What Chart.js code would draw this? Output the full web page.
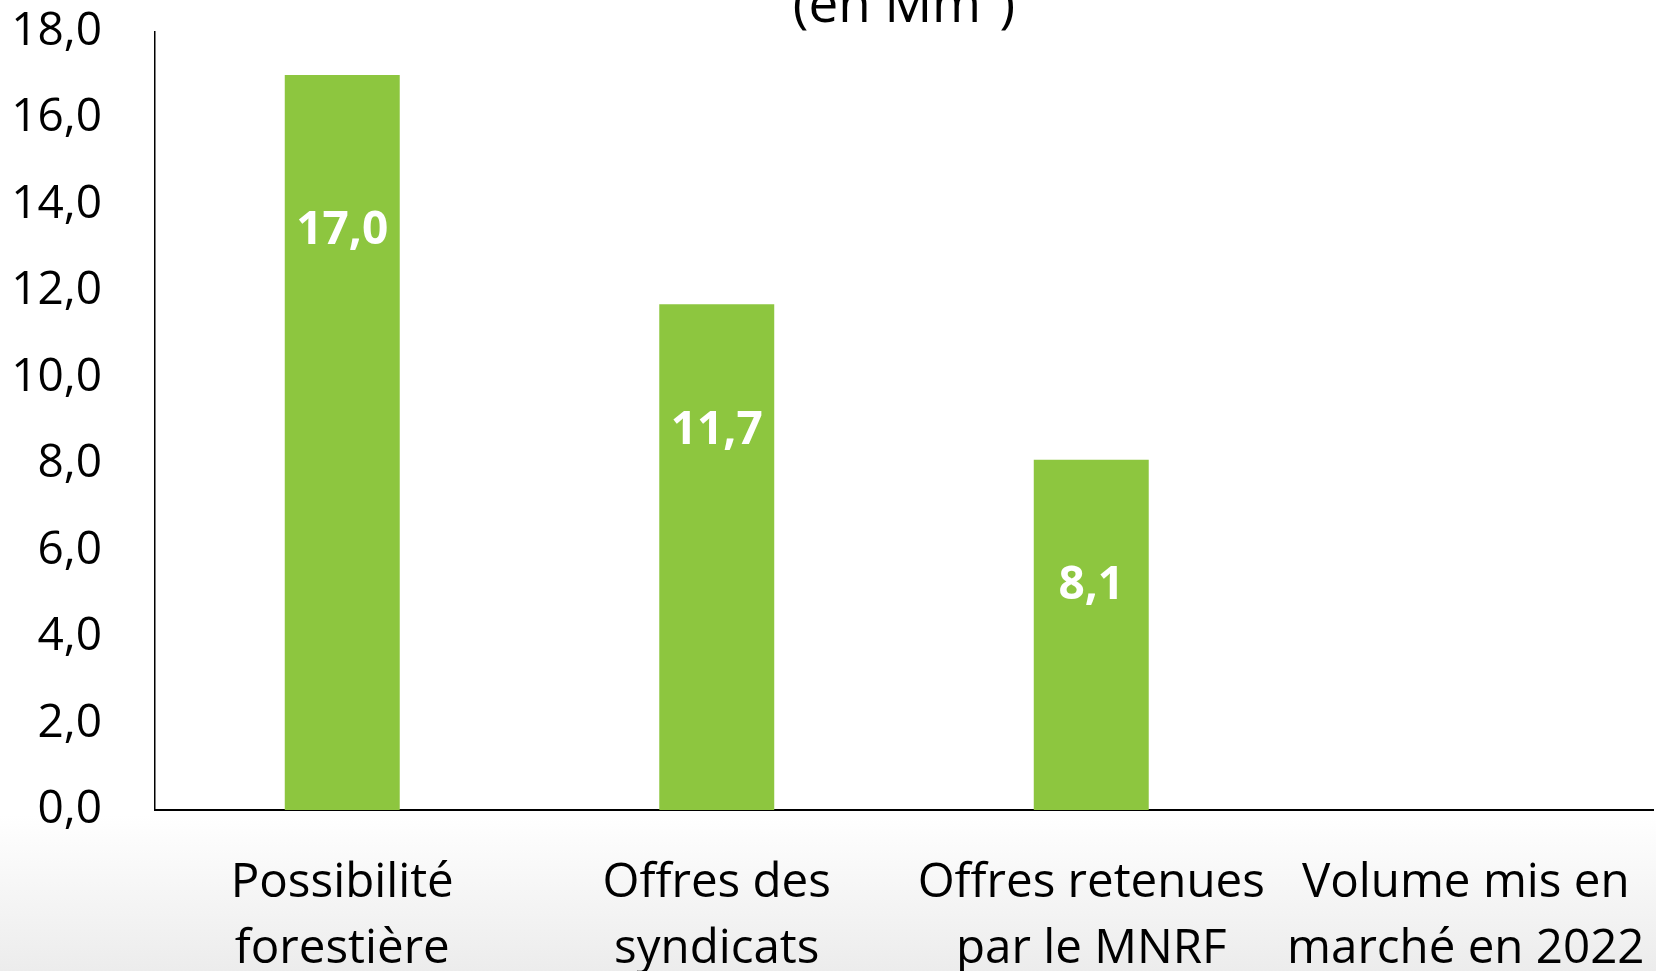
<!DOCTYPE html>
<html lang="fr">
<head>
    <meta charset="UTF-8">
    <title>Volumes (en Mm³)</title>
    <script src="https://cdn.jsdelivr.net/npm/chart.js"></script>
    <style>
        html, body {
            margin: 0;
            padding: 0;
            width: 1656px;
            height: 971px;
            overflow: hidden;
            background: linear-gradient(to bottom, #ffffff 0px, #ffffff 815px, #ececec 971px);
        }

        #chart-container {
            position: absolute;
            left: 0;
            top: -19px;
            width: 1656px;
            height: 1001px;
        }
    </style>
</head>
<body>
    <div id="chart-container">
        <canvas id="volumeChart"></canvas>
    </div>

    <script>
        const categories = [
            ["Possibilité", "forestière"],
            ["Offres des", "syndicats"],
            ["Offres retenues", "par le MNRF"],
            ["Volume mis en", "marché en 2022"]
        ];
        const volumes = [17.0, 11.7, 8.1, null];
        const yTicks = [0, 2, 4, 6, 8, 10, 12, 14, 16, 18];

        const fmt = v => v.toFixed(1).replace(".", ",");

        // white bold labels drawn inside the bars
        const barLabels = {
            id: "barLabels",
            afterDatasetsDraw(chart, args, opts) {
                const ctx = chart.ctx;
                const meta = chart.getDatasetMeta(0);
                ctx.save();
                ctx.font = "bold 46px 'Open Sans'";
                ctx.fillStyle = "#ffffff";
                ctx.textAlign = "center";
                ctx.textBaseline = "alphabetic";
                meta.data.forEach((bar, i) => {
                    const v = volumes[i];
                    if (v === null) return;
                    ctx.fillText(fmt(v), bar.x, bar.y + opts.offsets[i]);
                });
                ctx.restore();
            }
        };

        const ctx = document.getElementById("volumeChart").getContext("2d");
        new Chart(ctx, {
            type: "bar",
            data: {
                labels: categories,
                datasets: [{
                    data: volumes,
                    backgroundColor: "#8dc63f",
                    borderWidth: 0,
                    barPercentage: 0.307,
                    categoryPercentage: 1.0
                }]
            },
            options: {
                responsive: true,
                maintainAspectRatio: false,
                animation: false,
                layout: {
                    padding: { left: 15, right: 3, top: 0, bottom: 0 }
                },
                plugins: {
                    legend: { display: false },
                    tooltip: { enabled: false },
                    title: {
                        display: true,
                        text: "(en Mm³)",
                        fullSize: false,
                        color: "#000000",
                        font: { family: "'Open Sans'", size: 53, weight: "normal", lineHeight: 0.96 },
                        padding: { top: 0, bottom: 0 }
                    },
                    barLabels: {
                        offsets: [169, 140, 139]
                    }
                },
                scales: {
                    x: {
                        grid: { display: false, drawTicks: false },
                        border: { display: true, color: "#000000", width: 2 },
                        ticks: {
                            color: "#000000",
                            font: { family: "'Open Sans'", size: 47.5, lineHeight: 1.39 },
                            padding: 40,
                            maxRotation: 0,
                            autoSkip: false
                        },
                        afterFit: axis => {
                            axis.height = 172;
                            axis.paddingLeft = 0;
                            axis.paddingRight = 0;
                        }
                    },
                    y: {
                        min: 0,
                        max: 18,
                        afterBuildTicks: axis => {
                            axis.ticks = yTicks.map(v => ({ value: v }));
                        },
                        grid: { display: false, drawTicks: false },
                        border: { display: true, color: "#000000", width: 1.5 },
                        ticks: {
                            color: "#000000",
                            font: { family: "'Open Sans'", size: 46 },
                            padding: 53,
                            callback: value => fmt(value)
                        },
                        afterFit: axis => {
                            axis.width = 140;
                            axis.paddingTop = 0;
                            axis.paddingBottom = 0;
                        }
                    }
                }
            },
            plugins: [barLabels]
        });
    </script>
</body>
</html>
